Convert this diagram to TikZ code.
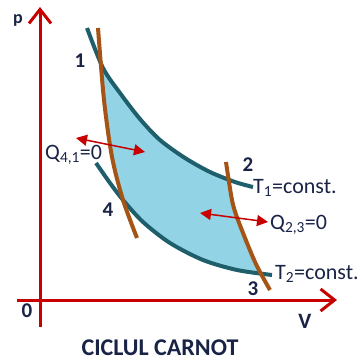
\documentclass[tikz,border=0pt]{standalone}
\usepackage{fontspec}
\setmainfont{Carlito}
\usetikzlibrary{arrows.meta}
\definecolor{axisred}{RGB}{200,0,0}
\definecolor{isoteal}{RGB}{31,94,107}
\definecolor{adiabrown}{RGB}{166,84,22}
\definecolor{cycleblue}{RGB}{146,212,230}
\definecolor{labelnavy}{RGB}{25,35,70}
\tikzset{
  axisline/.style={draw=axisred, line width=3pt, -{Straight Barb[length=14pt,width=22pt]}},
  isotherm/.style={draw=isoteal, line width=4pt},
  adiabat/.style={draw=adiabrown, line width=4pt},
  cyclefill/.style={fill=cycleblue},
  heatarrow/.style={draw=axisred, line width=1.5pt, {Triangle[length=11pt,width=11pt]}-{Triangle[length=11pt,width=11pt]}},
  statelabel/.style={font=\bfseries\fontsize{21}{21}\selectfont, text=labelnavy, inner sep=0pt},
  linelabel/.style={font=\fontsize{22}{22}\selectfont, text=labelnavy, inner sep=0pt, anchor=base west},
  titlelabel/.style={font=\bfseries\fontsize{24}{24}\selectfont, text=labelnavy, inner sep=0pt, anchor=base}
}
\begin{document}
\begin{tikzpicture}[x=1pt,y=-1pt]
\useasboundingbox (0,0) rectangle (364,362);
\fill[cyclefill] plot[smooth] coordinates {(102,67) (120,93) (140,119) (160,140) (185,158) (210,172) (229,179)}
  -- plot[smooth] coordinates {(229,179) (232,200) (238,220) (255,262) (262,274)}
  -- plot[smooth] coordinates {(262,274) (237,270) (203,260) (170,243) (143,222) (123,200)}
  -- plot[smooth] coordinates {(123,200) (112,157) (104,100) (102,67)} -- cycle;
\coordinate (pbottom) at (40,327);
\coordinate (ptop) at (40,7);
\coordinate (vleft) at (17,300);
\coordinate (vright) at (337,300);
\draw[axisline] (pbottom) -- (ptop);
\draw[axisline] (vleft) -- (vright);
\draw[isotherm] plot[smooth] coordinates {(87,28) (103,68) (120,93) (140,119) (160,140) (185,158) (210,172) (235,182) (253,187)};
\draw[isotherm] plot[smooth] coordinates {(96,163) (110,183) (123,200) (143,222) (170,243) (203,260) (237,270) (272,275)};
\draw[adiabat] plot[smooth] coordinates {(98,28) (104,100) (112,157) (123,200) (137,238)};
\draw[adiabat] plot[smooth] coordinates {(226,162) (232,200) (238,220) (255,262) (270,290)};
\coordinate (qleftA) at (76,138);
\coordinate (qleftB) at (145,152);
\coordinate (qrightA) at (200,213);
\coordinate (qrightB) at (268,222);
\draw[heatarrow] (qleftA) -- (qleftB);
\draw[heatarrow] (qrightA) -- (qrightB);
\node[statelabel, font=\bfseries\fontsize{18}{18}\selectfont] (plabel) at (18,20) {p};
\node[statelabel] (one) at (80,61) {1};
\node[statelabel] (two) at (248,165) {2};
\node[statelabel] (three) at (253,289) {3};
\node[statelabel] (four) at (108,210) {4};
\node[statelabel] (origin) at (27,311) {0};
\node[statelabel, font=\bfseries\fontsize{22}{22}\selectfont] (vlabel) at (305,321) {V};
\node[linelabel] (tone) at (253,193) {T\textsubscript{1}=const.};
\node[linelabel] (ttwo) at (275,279) {T\textsubscript{2}=const.};
\node[linelabel] (qtwothree) at (270,229) {Q\textsubscript{2,3}=0};
\node[linelabel] (qfourone) at (45,159) {Q\textsubscript{4,1}=0};
\node[titlelabel] (title) at (160,355) {CICLUL CARNOT};
\end{tikzpicture}
\end{document}
